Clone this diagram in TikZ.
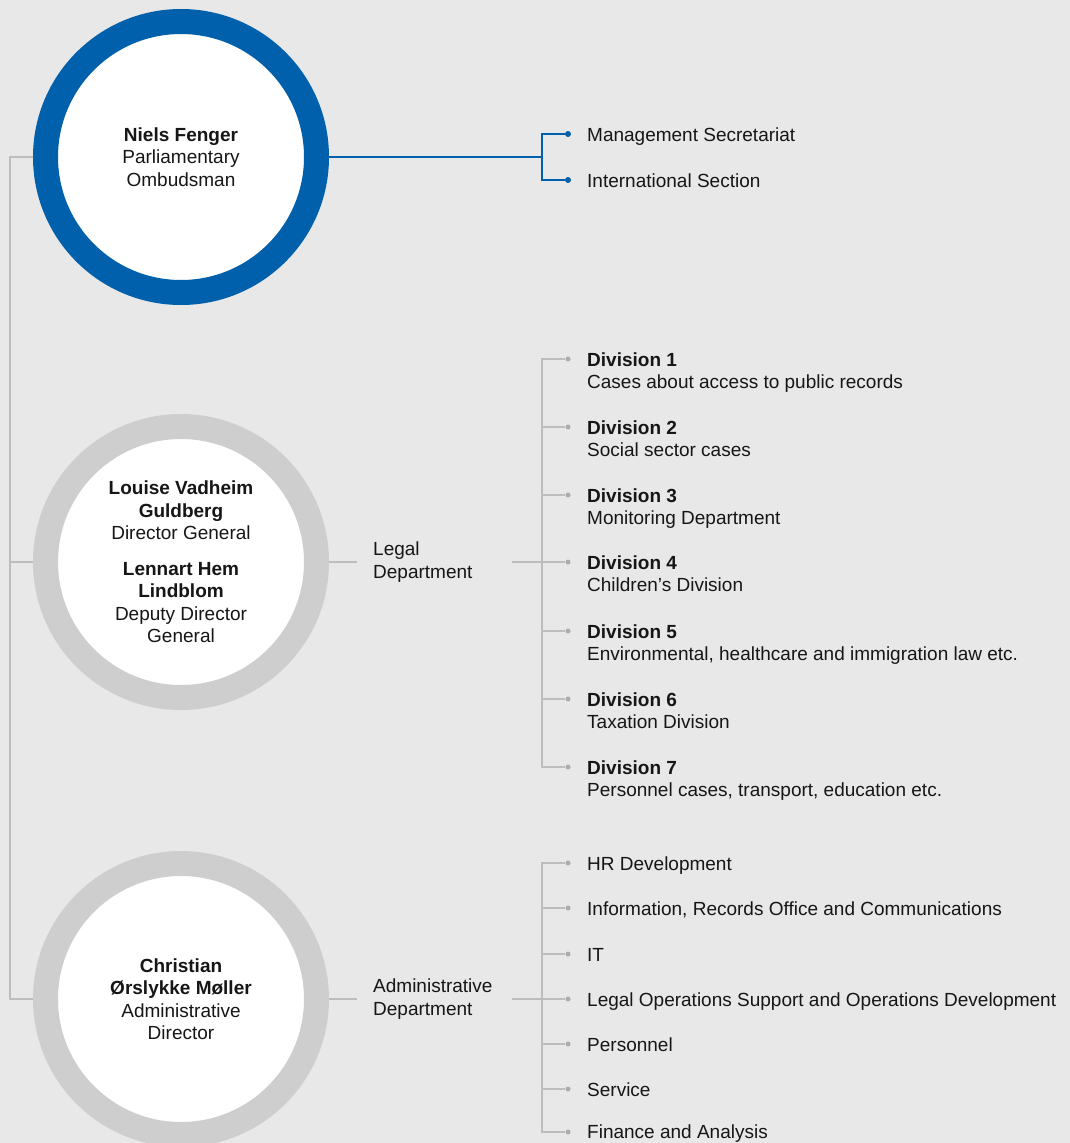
\documentclass[tikz,border=0pt]{standalone}
\usepackage{fontspec}
\setmainfont{Liberation Sans}
\usetikzlibrary{backgrounds}
\definecolor{pagebg}{RGB}{232,232,232}
\definecolor{ringgrey}{RGB}{205,206,205}
\definecolor{linegrey}{RGB}{189,189,189}
\definecolor{dotgrey}{RGB}{172,172,172}
\definecolor{ombblue}{RGB}{0,96,172}
\definecolor{inkblack}{RGB}{22,22,22}

\begin{document}
\begin{tikzpicture}[x=1pt, y=-1pt,
  font=\fontsize{19}{22.5}\selectfont, text=inkblack,
  person/.style={circle, draw=ringgrey, line width=25pt, fill=white, minimum size=271pt, inner sep=0pt, align=center},
  chief/.style={person, draw=ombblue},
  bluedot/.style={circle, fill=ombblue, inner sep=0pt, minimum size=6pt},
  greydot/.style={circle, fill=dotgrey, inner sep=0pt, minimum size=5pt},
  unit/.style={anchor=base west, inner sep=0pt},
  dept/.style={anchor=west, align=left, inner xsep=16pt, inner ysep=0pt},
  greyline/.style={draw=linegrey, line width=1.3pt},
  blueline/.style={draw=ombblue, line width=1.4pt}
]
\useasboundingbox (0,0) rectangle (1070,1143);

% Ombudsman
\node[chief] (ombud) at (181,157) {\textbf{Niels Fenger}\\Parliamentary\\Ombudsman};
\coordinate (ombudbus) at (542,157);
\node[bluedot] (mgmtdot) at (568,134) {};
\node[bluedot] (intldot) at (568,180) {};
\node[unit] (mgmt) at (587,141.5) {Management Secretariat};
\node[unit] (intl) at (587,187.5) {International Section};

% Legal Department
\node[person] (legaldir) at (181,562) {\textbf{Louise Vadheim}\\\textbf{Guldberg}\\Director General\\[13pt]\textbf{Lennart Hem}\\\textbf{Lindblom}\\Deputy Director\\General};
\node[dept] (legal) at (357,562) {Legal\\Department};
\coordinate (legalout) at (512,562);
\coordinate (legalbus) at (542,562);
\node[greydot] (div1dot) at (568,359) {};
\node[greydot] (div2dot) at (568,427) {};
\node[greydot] (div3dot) at (568,495) {};
\node[greydot] (div4dot) at (568,562) {};
\node[greydot] (div5dot) at (568,631) {};
\node[greydot] (div6dot) at (568,699) {};
\node[greydot] (div7dot) at (568,767) {};
\node[unit] (div1) at (587,366) {\textbf{Division 1}};
\node[unit] (div1txt) at (587,388.5) {Cases about access to public records};
\node[unit] (div2) at (587,434) {\textbf{Division 2}};
\node[unit] (div2txt) at (587,456.5) {Social sector cases};
\node[unit] (div3) at (587,502) {\textbf{Division 3}};
\node[unit] (div3txt) at (587,524.5) {Monitoring Department};
\node[unit] (div4) at (587,569) {\textbf{Division 4}};
\node[unit] (div4txt) at (587,591.5) {Children’s Division};
\node[unit] (div5) at (587,638) {\textbf{Division 5}};
\node[unit] (div5txt) at (587,660.5) {Environmental, healthcare and immigration law etc.};
\node[unit] (div6) at (587,706) {\textbf{Division 6}};
\node[unit] (div6txt) at (587,728.5) {Taxation Division};
\node[unit] (div7) at (587,774) {\textbf{Division 7}};
\node[unit] (div7txt) at (587,796.5) {Personnel cases, transport, education etc.};

% Administrative Department
\node[person] (admindir) at (181,999) {\textbf{Christian}\\\textbf{Ørslykke Møller}\\Administrative\\Director};
\node[dept] (admin) at (357,999) {Administrative\\Department};
\coordinate (adminout) at (512,999);
\coordinate (adminbus) at (542,999);
\node[greydot] (hrdot) at (568,863) {};
\node[greydot] (infodot) at (568,908) {};
\node[greydot] (itdot) at (568,954) {};
\node[greydot] (opsdot) at (568,999) {};
\node[greydot] (persdot) at (568,1044) {};
\node[greydot] (servdot) at (568,1089) {};
\node[greydot] (findot) at (568,1132) {};
\node[unit] (hr) at (587,870) {HR Development};
\node[unit] (info) at (587,915) {Information, Records Office and Communications};
\node[unit] (it) at (587,961) {IT};
\node[unit] (ops) at (587,1006) {Legal Operations Support and Operations Development};
\node[unit] (pers) at (587,1051) {Personnel};
\node[unit] (serv) at (587,1096) {Service};
\node[unit] (fin) at (587,1138.5) {Finance and Analysis};

% Trunk and connectors
\coordinate (trunktop) at (10,157);
\coordinate (trunkmid) at (10,562);
\coordinate (trunkbot) at (10,999);
\begin{scope}[on background layer]
\fill[pagebg] (0,0) rectangle (1070,1143);
\draw[greyline] (ombud) -- (trunktop) -- (trunkbot) -- (admindir);
\draw[greyline] (trunkmid) -- (legaldir);
\draw[blueline] (ombud) -- (ombudbus);
\draw[blueline] (mgmtdot) -| (ombudbus) |- (intldot);
\draw[greyline] (legaldir) -- (legal);
\draw[greyline] (legalout) -- (div4dot);
\draw[greyline] (div1dot) -| (legalbus) |- (div7dot);
\draw[greyline] (legalbus) |- (div2dot);
\draw[greyline] (legalbus) |- (div3dot);
\draw[greyline] (legalbus) |- (div5dot);
\draw[greyline] (legalbus) |- (div6dot);
\draw[greyline] (admindir) -- (admin);
\draw[greyline] (adminout) -- (opsdot);
\draw[greyline] (hrdot) -| (adminbus) |- (findot);
\draw[greyline] (adminbus) |- (infodot);
\draw[greyline] (adminbus) |- (itdot);
\draw[greyline] (adminbus) |- (persdot);
\draw[greyline] (adminbus) |- (servdot);
\end{scope}
\end{tikzpicture}
\end{document}
